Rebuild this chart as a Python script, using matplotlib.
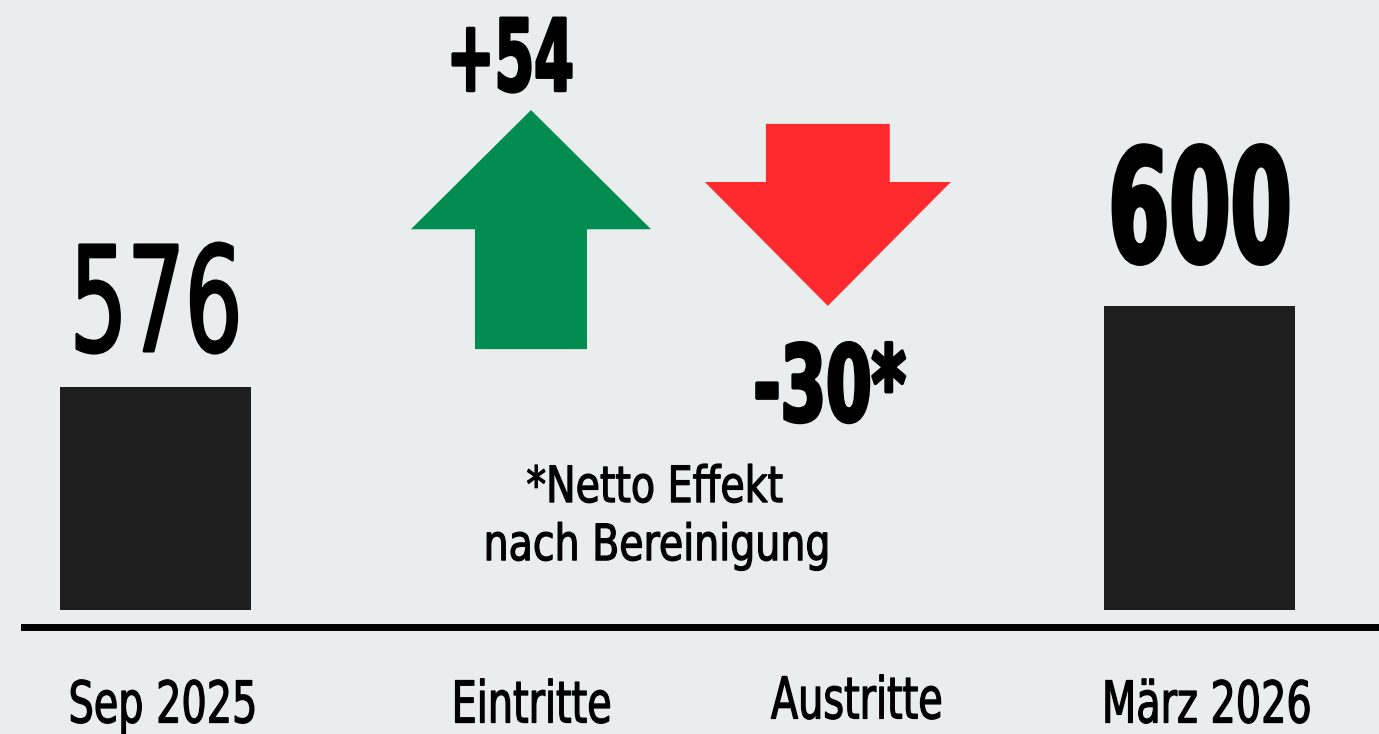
import matplotlib
matplotlib.use('Agg')
import matplotlib.pyplot as plt
from matplotlib.patheffects import AbstractPathEffect
from matplotlib.transforms import Affine2D

# data
labels = ['Sep 2025', 'Eintritte', 'Austritte', 'März 2026']
start_value = 576
end_value = 600
joined = 54
left = -30
note_lines = ['*Netto Effekt', 'nach Bereinigung']

# colours
bg = '#E9EDEE'
bar_color = '#1E1E1E'
green = '#028C4F'
red = '#FF2A2E'

plt.rcParams['font.family'] = ['DejaVu Sans']


# no condensed face installed, so squeeze the glyphs sideways when drawing
# (lw > 0 also fattens the strokes a bit)
class Narrow(AbstractPathEffect):
    def __init__(self, sx, lw=0):
        super().__init__()
        self.sx = sx
        self.lw = lw

    def draw_path(self, renderer, gc, tpath, affine, rgbFace=None):
        ext = tpath.get_extents()
        cx = (ext.x0 + ext.x1) / 2
        squeeze = Affine2D().translate(-cx, 0).scale(self.sx, 1).translate(cx, 0)
        gc0 = renderer.new_gc()
        gc0.copy_properties(gc)
        if self.lw:
            gc0.set_linewidth(self.lw)
            gc0.set_foreground(rgbFace)
            gc0.set_joinstyle('round')
        renderer.draw_path(gc0, tpath, squeeze + affine, rgbFace)
        gc0.restore()


fig = plt.figure(figsize=(13.79, 7.34), dpi=100, facecolor=bg)
ax = fig.add_axes([0, 0, 1, 1])
ax.set_facecolor(bg)
ax.set_xlim(-0.4468, 3.5158)
ax.set_ylim(473.3, 690.7)
ax.axis('off')

base = 510
# the two bars
ax.bar([0, 3], [start_value - base, end_value - base], bottom=base,
       width=0.549, color=bar_color)

# baseline
ax.axhline(505.1, xmin=24 / 1379, xmax=1, color='black', lw=5)

# arrows for in / out
up_x, down_x = 1.079, 1.932
ax.arrow(up_x, 587.3, 0, 70.8, width=0.322, head_width=0.690,
         head_length=35.3, length_includes_head=True, color=green, lw=0)
ax.arrow(down_x, 654.0, 0, -53.9, width=0.356, head_width=0.707,
         head_length=36.7, length_includes_head=True, color=red, lw=0)

# value labels
ax.text(0.001, start_value + 10.7, str(start_value), ha='center', va='baseline',
        fontsize=105, color='black', path_effects=[Narrow(0.62, lw=2.0)])
ax.text(3.0, end_value + 13.2, str(end_value), ha='center', va='baseline',
        fontsize=113, fontweight='bold', color='black',
        path_effects=[Narrow(0.56, lw=3)])
ax.text(1.016, 663.8, '+%d' % joined, ha='center', va='baseline',
        fontsize=72, fontweight='bold', color='black',
        path_effects=[Narrow(0.57, lw=2.0)])
ax.text(1.935, 566.0, '-%d*' % abs(left), ha='center', va='baseline',
        fontsize=76, fontweight='bold', color='black',
        path_effects=[Narrow(0.62, lw=2.5)])

# footnote
ax.text(1.435, 542.0, note_lines[0], ha='center', va='baseline', fontsize=36,
        color='black', path_effects=[Narrow(0.79, lw=0.9)])
ax.text(1.441, 524.8, note_lines[1], ha='center', va='baseline', fontsize=36,
        color='black', path_effects=[Narrow(0.79, lw=0.9)])

# category labels under the line
label_x = [0.022, 1.079, 2.016, 3.020]
label_y = [476.7, 476.7, 477.9, 476.7]
for x, y, lab in zip(label_x, label_y, labels):
    ax.text(x, y, lab, ha='center', va='baseline', fontsize=41.5, color='black',
            path_effects=[Narrow(0.69, lw=0.9)])

fig.savefig('out.png', dpi=100, facecolor=bg)
